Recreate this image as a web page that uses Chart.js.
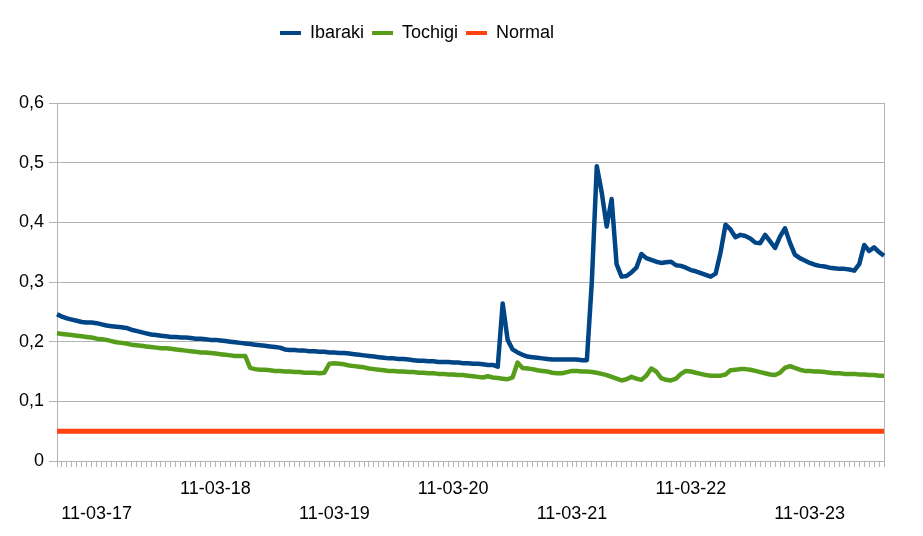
<!DOCTYPE html>
<html>
<head>
<meta charset="utf-8">
<script src="https://cdn.jsdelivr.net/npm/chart.js@4.4.1/dist/chart.umd.min.js"></script>
<style>
  html, body { margin: 0; padding: 0; background: #fff; }
  #wrap { width: 923px; height: 536px; }
</style>
</head>
<body>
<div id="wrap"><canvas id="myChart" width="923" height="536"></canvas></div>
<script>
// hourly readings, first row starts 11-03-16 16:00
const days = ['11-03-16', '11-03-17', '11-03-18', '11-03-19', '11-03-20', '11-03-21', '11-03-22', '11-03-23'];
const firstHour = 16;
const tickLabels = ['11-03-17', '11-03-18', '11-03-19', '11-03-20', '11-03-21', '11-03-22', '11-03-23'];

const ibaraki = [
    0.246, 0.242, 0.239, 0.237, 0.235, 0.233, 0.232, 0.232, 0.231, 0.229, 0.227, 0.226,
    0.225, 0.224, 0.223, 0.220, 0.218, 0.216, 0.214, 0.212, 0.211, 0.210, 0.209, 0.208,
    0.208, 0.207, 0.207, 0.206, 0.205, 0.205, 0.204, 0.203, 0.203, 0.202, 0.201, 0.200,
    0.199, 0.198, 0.197, 0.196, 0.195, 0.194, 0.193, 0.192, 0.191, 0.190, 0.187, 0.186,
    0.186, 0.185, 0.185, 0.184, 0.184, 0.183, 0.183, 0.182, 0.182, 0.181, 0.181, 0.180,
    0.179, 0.178, 0.177, 0.176, 0.175, 0.174, 0.173, 0.172, 0.172, 0.171, 0.171, 0.170,
    0.169, 0.168, 0.168, 0.167, 0.167, 0.166, 0.166, 0.166, 0.165, 0.165, 0.164, 0.164,
    0.163, 0.163, 0.162, 0.161, 0.161, 0.158, 0.264, 0.203, 0.187, 0.182, 0.178, 0.175,
    0.174, 0.173, 0.172, 0.171, 0.170, 0.170, 0.170, 0.170, 0.170, 0.170, 0.169, 0.169,
    0.300, 0.494, 0.450, 0.393, 0.439, 0.330, 0.309, 0.310, 0.316, 0.324, 0.347, 0.340,
    0.337, 0.334, 0.332, 0.333, 0.334, 0.328, 0.327, 0.324, 0.320, 0.318, 0.315, 0.312,
    0.309, 0.314, 0.350, 0.396, 0.388, 0.375, 0.379, 0.377, 0.373, 0.366, 0.365, 0.379,
    0.368, 0.357, 0.376, 0.390, 0.366, 0.346, 0.340, 0.336, 0.332, 0.329, 0.327, 0.326,
    0.324, 0.323, 0.322, 0.322, 0.321, 0.319, 0.330, 0.362, 0.352, 0.358, 0.350, 0.344
];

const tochigi = [
    0.214, 0.213, 0.212, 0.211, 0.210, 0.209, 0.208, 0.207, 0.205, 0.204, 0.203, 0.201,
    0.199, 0.198, 0.197, 0.195, 0.194, 0.193, 0.192, 0.191, 0.190, 0.189, 0.189, 0.188,
    0.187, 0.186, 0.185, 0.184, 0.183, 0.182, 0.182, 0.181, 0.180, 0.179, 0.178, 0.177,
    0.176, 0.176, 0.176, 0.156, 0.154, 0.153, 0.153, 0.152, 0.151, 0.151, 0.150, 0.150,
    0.149, 0.149, 0.148, 0.148, 0.148, 0.147, 0.148, 0.163, 0.164, 0.163, 0.162, 0.160,
    0.159, 0.158, 0.157, 0.155, 0.154, 0.153, 0.152, 0.151, 0.151, 0.150, 0.150, 0.149,
    0.149, 0.148, 0.148, 0.147, 0.147, 0.146, 0.146, 0.145, 0.145, 0.144, 0.144, 0.143,
    0.142, 0.141, 0.140, 0.142, 0.140, 0.139, 0.138, 0.137, 0.140, 0.165, 0.156, 0.155,
    0.154, 0.152, 0.151, 0.150, 0.148, 0.147, 0.147, 0.149, 0.151, 0.151, 0.150, 0.150,
    0.149, 0.148, 0.146, 0.144, 0.141, 0.138, 0.135, 0.137, 0.141, 0.138, 0.136, 0.143,
    0.155, 0.150, 0.139, 0.136, 0.135, 0.138, 0.146, 0.151, 0.150, 0.148, 0.146, 0.144,
    0.143, 0.143, 0.143, 0.145, 0.152, 0.153, 0.154, 0.154, 0.153, 0.151, 0.149, 0.147,
    0.145, 0.144, 0.148, 0.156, 0.159, 0.156, 0.153, 0.151, 0.151, 0.150, 0.150, 0.149,
    0.148, 0.147, 0.147, 0.146, 0.146, 0.146, 0.145, 0.145, 0.144, 0.144, 0.143, 0.143
];

const normal = [
    0.05, 0.05, 0.05, 0.05, 0.05, 0.05, 0.05, 0.05, 0.05, 0.05, 0.05, 0.05,
    0.05, 0.05, 0.05, 0.05, 0.05, 0.05, 0.05, 0.05, 0.05, 0.05, 0.05, 0.05,
    0.05, 0.05, 0.05, 0.05, 0.05, 0.05, 0.05, 0.05, 0.05, 0.05, 0.05, 0.05,
    0.05, 0.05, 0.05, 0.05, 0.05, 0.05, 0.05, 0.05, 0.05, 0.05, 0.05, 0.05,
    0.05, 0.05, 0.05, 0.05, 0.05, 0.05, 0.05, 0.05, 0.05, 0.05, 0.05, 0.05,
    0.05, 0.05, 0.05, 0.05, 0.05, 0.05, 0.05, 0.05, 0.05, 0.05, 0.05, 0.05,
    0.05, 0.05, 0.05, 0.05, 0.05, 0.05, 0.05, 0.05, 0.05, 0.05, 0.05, 0.05,
    0.05, 0.05, 0.05, 0.05, 0.05, 0.05, 0.05, 0.05, 0.05, 0.05, 0.05, 0.05,
    0.05, 0.05, 0.05, 0.05, 0.05, 0.05, 0.05, 0.05, 0.05, 0.05, 0.05, 0.05,
    0.05, 0.05, 0.05, 0.05, 0.05, 0.05, 0.05, 0.05, 0.05, 0.05, 0.05, 0.05,
    0.05, 0.05, 0.05, 0.05, 0.05, 0.05, 0.05, 0.05, 0.05, 0.05, 0.05, 0.05,
    0.05, 0.05, 0.05, 0.05, 0.05, 0.05, 0.05, 0.05, 0.05, 0.05, 0.05, 0.05,
    0.05, 0.05, 0.05, 0.05, 0.05, 0.05, 0.05, 0.05, 0.05, 0.05, 0.05, 0.05,
    0.05, 0.05, 0.05, 0.05, 0.05, 0.05, 0.05, 0.05, 0.05, 0.05, 0.05, 0.05
];

// build the hour categories
const categories = [];
for (let i = 0; i < ibaraki.length; i++) {
    const h = firstHour + i;
    categories.push(days[Math.floor(h / 24)] + ' ' + String(h % 24).padStart(2, '0') + ':00');
}

const gridColor = '#b3b3b3';
Chart.defaults.font.family = "'Liberation Sans', Arial, sans-serif";
Chart.defaults.font.size = 18;
Chart.defaults.color = '#000';

const data = {
    labels: categories,
    datasets: [
        { label: 'Ibaraki', data: ibaraki, borderColor: '#004586', backgroundColor: '#004586', borderWidth: 4.5 },
        { label: 'Tochigi', data: tochigi, borderColor: '#579d1c', backgroundColor: '#579d1c', borderWidth: 4.5 },
        { label: 'Normal', data: normal, borderColor: '#ff420e', backgroundColor: '#ff420e', borderWidth: 5 }
    ]
};

// extra room under the legend, and move it a bit left
const legendSpace = {
    id: 'legendSpace',
    beforeInit(chart) {
        const fit = chart.legend.fit;
        chart.legend.fit = function () {
            fit.bind(chart.legend)();
            this.height += 51;
        };
    },
    afterLayout(chart) {
        chart.legend.left -= 25;
        chart.legend.right -= 25;
    }
};

const config = {
    type: 'line',
    data,
    options: {
        responsive: false,
        animation: false,
        layout: { padding: { left: 0, right: 39, top: 16, bottom: 0 } },
        elements: {
            point: { radius: 0 },
            line: { tension: 0, borderJoinStyle: 'round' }
        },
        plugins: {
            legend: {
                position: 'top',
                labels: {
                    boxWidth: 21,
                    boxHeight: 4,
                    padding: 8,
                    generateLabels(chart) {
                        return Chart.defaults.plugins.legend.labels.generateLabels(chart).map(l => {
                            l.lineWidth = 0;
                            return l;
                        });
                    }
                }
            },
            tooltip: { enabled: false }
        },
        scales: {
            x: {
                offset: false,
                grid: {
                    offset: false,
                    drawOnChartArea: true,
                    color: ctx => (ctx.index === categories.length - 1 ? gridColor : 'rgba(0,0,0,0)'),
                    tickColor: gridColor,
                    tickLength: 6
                },
                border: { color: gridColor },
                ticks: {
                    autoSkip: false,
                    maxRotation: 0,
                    minRotation: 0,
                    padding: 9,
                    font: { size: 18, lineHeight: 1.4 },
                    callback(value, index) {
                        const c = categories[index];
                        if (!c.endsWith(' 00:00')) return '';
                        const k = tickLabels.indexOf(c.slice(0, 8));
                        if (k < 0) return '';
                        return k % 2 === 0 ? ['', tickLabels[k]] : tickLabels[k];
                    }
                },
                afterFit(scale) { scale.height = 75; }
            },
            y: {
                min: 0,
                max: 0.6,
                grid: { color: gridColor, tickLength: 8 },
                border: { color: gridColor },
                ticks: {
                    stepSize: 0.1,
                    padding: 5,
                    callback: v => (v === 0 ? '0' : v.toFixed(1).replace('.', ','))
                },
                afterFit(scale) { scale.width = 57; }
            }
        }
    },
    plugins: [legendSpace]
};

new Chart(document.getElementById('myChart'), config);
</script>
</body>
</html>
